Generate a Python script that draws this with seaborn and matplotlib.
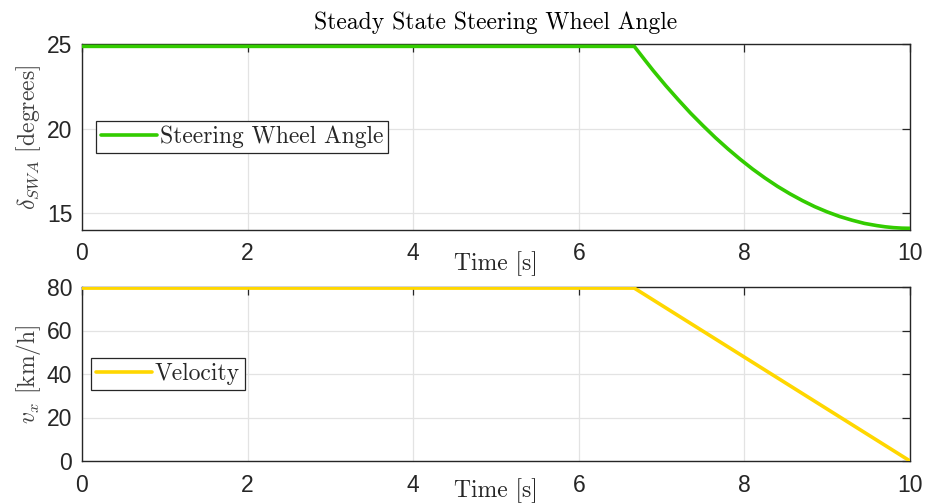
import matplotlib
matplotlib.use("Agg")
import matplotlib.pyplot as plt
import seaborn as sns
import pandas as pd

# ---- data ----
time_swa = [0.0, 6.67, 6.8, 6.9, 7.05, 7.2, 7.35, 7.5, 7.65, 7.8, 7.95, 8.1, 8.25,
            8.4, 8.55, 8.7, 8.85, 9.0, 9.15, 9.3, 9.45, 9.6, 9.7, 9.8, 9.9, 10.0]
swa_deg = [24.86, 24.86, 24.04, 23.42, 22.54, 21.71, 20.91, 20.17, 19.46, 18.80, 18.18,
           17.60, 17.07, 16.58, 16.14, 15.74, 15.38, 15.07, 14.80, 14.58, 14.39, 14.26,
           14.19, 14.14, 14.11, 14.10]

time_vel = [0.0, 6.67, 10.0]
vel_kmh = [79.5, 79.5, 0.0]

x_ticks = [0, 2, 4, 6, 8, 10]
swa_ticks = [15, 20, 25]
vel_ticks = [0, 20, 40, 60, 80]

title_text = "Steady State Steering Wheel Angle"
swa_label = "Steering Wheel Angle"
vel_label = "Velocity"

sns.set_style("white")
plt.rcParams["font.family"] = ["Liberation Sans", "DejaVu Sans"]
plt.rcParams["mathtext.fontset"] = "cm"

serif = "cmr10"
dark = "#262626"

df_swa = pd.DataFrame({"t": time_swa, "v": swa_deg})
df_vel = pd.DataFrame({"t": time_vel, "v": vel_kmh})

fig = plt.figure(figsize=(9.25, 5.04), dpi=100)
ax1 = fig.add_axes([82 / 925, 1 - 230 / 504, 828 / 925, 186 / 504])
ax2 = fig.add_axes([82 / 925, 1 - 461 / 504, 828 / 925, 174 / 504])

sns.lineplot(data=df_swa, x="t", y="v", ax=ax1, color="#33cc00", linewidth=2.6,
             label=swa_label, zorder=3)
sns.lineplot(data=df_vel, x="t", y="v", ax=ax2, color="#ffd700", linewidth=2.6,
             label=vel_label, zorder=3)

for ax, yt, ylim in [(ax1, swa_ticks, (14, 25)), (ax2, vel_ticks, (0, 80))]:
    ax.set_xlim(0, 10)
    ax.set_ylim(*ylim)
    ax.set_xticks(x_ticks)
    ax.set_yticks(yt)
    ax.grid(True, color="#e3e3e3", linewidth=0.9)
    ax.set_axisbelow(True)
    for s in ax.spines.values():
        s.set_visible(True)
        s.set_color(dark)
        s.set_linewidth(1.0)
    ax.tick_params(direction="in", length=6, width=0.9, color=dark,
                   top=True, right=True, labelsize=16.5, labelcolor=dark)
    ax.tick_params(axis="x", pad=9)
    ax.tick_params(axis="y", pad=7)
    ax.set_xlabel("Time [s]", fontsize=17, family=serif, color=dark)
    ax.xaxis.set_label_coords(0.5, -0.112 if ax is ax1 else -0.1)

ax1.set_ylabel(r"$\delta_{SWA}$ [degrees]", fontsize=17, family=serif, color="#404040")
ax2.set_ylabel(r"$v_x$ [km/h]", fontsize=17, family=serif, color="#404040")
ax1.yaxis.set_label_coords(-0.047, 0.5)
ax2.yaxis.set_label_coords(-0.047, 0.5)

ax1.set_title(title_text, fontsize=17, family=serif, color="black", pad=11)

for ax, xa in ((ax1, 0.017), (ax2, 0.011)):
    leg = ax.legend(loc="center left", bbox_to_anchor=(xa, 0.5),
                    prop={"family": serif, "size": 17}, frameon=True,
                    fancybox=False, framealpha=1, edgecolor=dark,
                    handlelength=2.4, handletextpad=0.1, borderpad=0.2,
                    borderaxespad=0.0)
    leg.get_frame().set_linewidth(0.9)

fig.savefig("out.png", dpi=100)
